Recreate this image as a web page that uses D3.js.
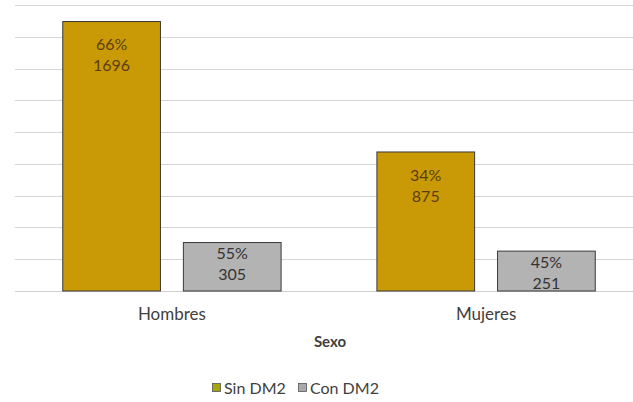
<!DOCTYPE html>
<html>
<head>
<meta charset="utf-8">
<script src="https://cdn.jsdelivr.net/npm/d3@7"></script>
<style>
  body { margin: 0; background: #fff; }
  text { font-family: Lato, "Open Sans", sans-serif; }
</style>
</head>
<body>
<div id="chart"></div>
<script>
var categories = ['Hombres', 'Mujeres']
var seriesNames = ['Sin DM2', 'Con DM2']
var sinValues = [1696, 875]
var conValues = [305, 251]
var sinPct = ['66%', '34%']
var conPct = ['55%', '45%']
var yTicks = d3.range(0, 1801, 200)

var width = 633, height = 402
var margin = {left: 15, right: -10, top: 5, bottom: 111}

var colors = {'Sin DM2': '#c99a06', 'Con DM2': '#b3b3b3'}
var legendColors = {'Sin DM2': '#a6a60a', 'Con DM2': '#a9a9a9'}
var labelColors = {'Sin DM2': '#5c3d12', 'Con DM2': '#333'}
var labelOffset = {'Sin DM2': 23, 'Con DM2': 11}

var svg = d3.select('#chart').append('svg')
  .attr('width', width).attr('height', height)

var g = svg.append('g').attr('transform', 'translate(' + margin.left + ',' + margin.top + ')')
var w = width - margin.left - margin.right
var h = height - margin.top - margin.bottom

var x0 = d3.scaleBand().domain(categories).range([0, w]).paddingInner(0.305).paddingOuter(0.152)
var x1 = d3.scaleBand().domain(seriesNames).range([0, x0.bandwidth()]).paddingInner(0.19)
var y = d3.scaleLinear().domain([0, 1800]).range([h, 0])

// gridlines
g.selectAll('line.grid').data(yTicks).join('line')
  .attr('class', 'grid')
  .attr('x1', 0).attr('x2', w)
  .attr('y1', function(d){ return Math.round(y(d)) + 0.5 })
  .attr('y2', function(d){ return Math.round(y(d)) + 0.5 })
  .attr('stroke', function(d){ return d === 0 ? '#cfcfcf' : '#d6d6d6' })
  .attr('stroke-width', 1.2)

var rows = []
categories.forEach(function(c, i){
  rows.push({cat: c, s: 'Sin DM2', v: sinValues[i], pct: sinPct[i]})
  rows.push({cat: c, s: 'Con DM2', v: conValues[i], pct: conPct[i]})
})

g.selectAll('rect.bar').data(rows).join('rect')
  .attr('class', 'bar')
  .attr('x', function(d){ return x0(d.cat) + x1(d.s) })
  .attr('y', function(d){ return y(d.v) })
  .attr('width', x1.bandwidth())
  .attr('height', function(d){ return h - y(d.v) })
  .attr('fill', function(d){ return colors[d.s] })
  .attr('stroke', '#3a3a3a')
  .attr('stroke-width', 1)

var labels = g.selectAll('text.lbl').data(rows).join('text')
  .attr('class', 'lbl')
  .attr('text-anchor', 'middle')
  .attr('font-size', 16)
  .attr('fill', function(d){ return labelColors[d.s] })
  .attr('x', function(d){ return x0(d.cat) + x1(d.s) + x1.bandwidth() / 2 })
  .attr('y', function(d){ return y(d.v) + labelOffset[d.s] })
labels.append('tspan').attr('dy', '0.35em').text(function(d){ return d.pct })
labels.append('tspan')
  .attr('x', function(d){ return x0(d.cat) + x1(d.s) + x1.bandwidth() / 2 })
  .attr('dy', 21).text(function(d){ return d.v })

// category axis labels
g.selectAll('text.cat').data(categories).join('text')
  .attr('class', 'cat')
  .attr('text-anchor', 'middle')
  .attr('font-size', 17)
  .attr('fill', '#404040')
  .attr('x', function(d){ return x0(d) + x0.bandwidth() / 2 })
  .attr('y', h + 23)
  .attr('dy', '0.35em')
  .text(function(d){ return d })

svg.append('text')
  .attr('text-anchor', 'middle')
  .attr('font-size', 15)
  .attr('font-weight', 'bold')
  .attr('fill', '#404040')
  .attr('x', 330).attr('y', 342).attr('dy', '0.35em')
  .text('Sexo')

// legend
var legend = svg.append('g').attr('transform', 'translate(212,388)')
var items = legend.selectAll('g').data(seriesNames).join('g')
  .attr('transform', function(d, i){ return 'translate(' + (i * 86) + ',0)' })
items.append('rect')
  .attr('x', 0.5).attr('y', -4.5).attr('width', 8).attr('height', 8)
  .attr('fill', function(d){ return legendColors[d] })
  .attr('stroke', '#555').attr('stroke-width', 0.8)
items.append('text')
  .attr('x', 12).attr('dy', '0.35em')
  .attr('font-size', 16)
  .attr('fill', '#404040')
  .text(function(d){ return d })
</script>
</body>
</html>
